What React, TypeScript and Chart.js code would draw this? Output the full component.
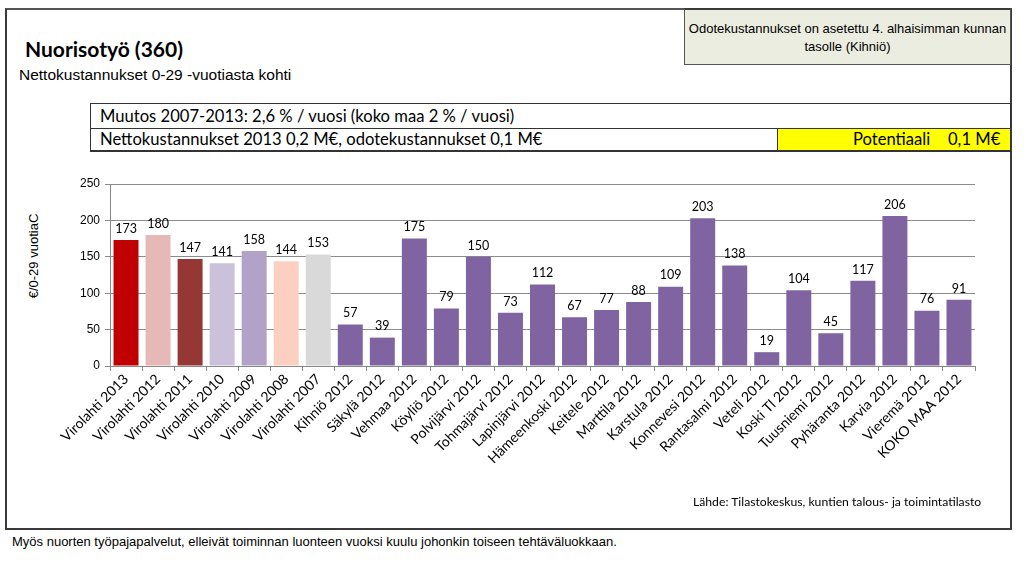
import React, { useEffect, useRef } from "react";
import { Chart, registerables } from "chart.js";

Chart.register(...registerables);

const categories = [
  "Virolahti 2013", "Virolahti 2012", "Virolahti 2011", "Virolahti 2010", "Virolahti 2009",
  "Virolahti 2008", "Virolahti 2007", "Kihniö 2012", "Säkylä 2012", "Vehmaa 2012",
  "Köyliö 2012", "Polvijärvi 2012", "Tohmajärvi 2012", "Lapinjärvi 2012", "Hämeenkoski 2012",
  "Keitele 2012", "Marttila 2012", "Karstula 2012", "Konnevesi 2012", "Rantasalmi 2012",
  "Veteli 2012", "Koski Tl 2012", "Tuusniemi 2012", "Pyhäranta 2012", "Karvia 2012",
  "Vieremä 2012", "KOKO MAA 2012",
];
const values = [173, 180, 147, 141, 158, 144, 153, 57, 39, 175, 79, 150, 73, 112, 67, 77, 88, 109, 203, 138, 19, 104, 45, 117, 206, 76, 91];
const virolahtiColors = ["#C00000", "#E6B9B8", "#953735", "#CCC1DA", "#B3A2C7", "#FCD0C0", "#D9D9D9"];
const otherColor = "#8064A2";
const yTicks = [0, 50, 100, 150, 200, 250];

const CAL = "Lato, 'Open Sans', sans-serif";
const ARIAL = "'Liberation Sans', Arial, sans-serif";

const valueLabels = {
  id: "valueLabels",
  afterDatasetsDraw(chart: any) {
    const ctx = chart.ctx;
    const meta = chart.getDatasetMeta(0);
    ctx.save();
    ctx.font = "12.5px " + CAL;
    ctx.fillStyle = "#000";
    ctx.textAlign = "center";
    ctx.textBaseline = "bottom";
    meta.data.forEach((bar: any, i: number) => {
      ctx.fillText(String(values[i]), bar.x, bar.y - 5);
    });
    ctx.restore();
  },
};

function BarChart() {
  const ref = useRef<HTMLCanvasElement>(null);
  useEffect(() => {
    const colors = values.map((_, i) => (i < virolahtiColors.length ? virolahtiColors[i] : otherColor));
    const chart = new Chart(ref.current!, {
      type: "bar",
      data: {
        labels: categories,
        datasets: [{ data: values, backgroundColor: colors, barPercentage: 0.78, categoryPercentage: 1 }],
      },
      options: {
        animation: false,
        responsive: false,
        maintainAspectRatio: false,
        layout: { padding: { top: 14, right: 15, left: 0, bottom: 0 } },
        plugins: { legend: { display: false }, tooltip: { enabled: false } },
        scales: {
          x: {
            grid: { drawOnChartArea: false, drawTicks: true, tickLength: 5, color: "#888", offset: true },
            border: { color: "#888", width: 1 },
            ticks: {
              autoSkip: false,
              minRotation: 45,
              maxRotation: 45,
              color: "#000",
              font: { family: CAL, size: 14 },
              padding: 0,
            },
            afterFit(scale: any) { scale.height = 134; },
          },
          y: {
            min: 0,
            max: 250,
            afterBuildTicks(scale: any) { scale.ticks = yTicks.map((v) => ({ value: v })); },
            grid: { color: "#8c8c8c", lineWidth: 1, tickLength: 5, drawTicks: true },
            border: { color: "#888", width: 1 },
            ticks: { color: "#000", font: { family: ARIAL, size: 12 }, padding: 5 },
            afterFit(scale: any) { scale.width = 50; },
          },
        },
      },
      plugins: [valueLabels],
    });
    return () => chart.destroy();
  }, []);
  return <canvas ref={ref} width={930} height={330} style={{ position: "absolute", left: 60, top: 170, width: 930, height: 330 }} />;
}

export default function App() {
  const abs = (s: React.CSSProperties): React.CSSProperties => ({ position: "absolute", ...s });
  return (
    <div style={{ position: "absolute", left: 0, top: 0, width: 1024, height: 588, background: "#fff", overflow: "hidden" }}>
      <div style={abs({ left: 5, top: 8, width: 1003, height: 518, border: "2px solid #3a3a3a", borderTopColor: "#555", boxSizing: "content-box" })} />
      <div style={abs({ left: 684, top: 8, width: 327, height: 57, background: "#EBEDE1", border: "1px solid #555", borderTop: "2px solid #3a3a3a", boxSizing: "border-box", fontFamily: ARIAL, fontSize: 13, color: "#000", textAlign: "center", lineHeight: "18px", paddingTop: 10 })}>
        Odotekustannukset on asetettu 4. alhaisimman kunnan<br />tasolle (Kihniö)
      </div>
      <div style={abs({ left: 25, top: 36, fontFamily: CAL, fontWeight: 700, fontSize: 21, color: "#000", whiteSpace: "nowrap" })}>Nuorisotyö (360)</div>
      <div style={abs({ left: 19, top: 66, fontFamily: ARIAL, fontSize: 15.5, color: "#000", whiteSpace: "nowrap" })}>Nettokustannukset 0-29 -vuotiasta kohti</div>
      <div style={abs({ left: 90, top: 103, width: 921, height: 25, borderTop: "1px solid #333", borderLeft: "1px solid #333", borderRight: "1px solid #333", boxSizing: "border-box", fontFamily: CAL, fontSize: 16.6, lineHeight: "24px", paddingLeft: 9, whiteSpace: "nowrap" })}>
        Muutos 2007-2013: 2,6 % / vuosi (koko maa 2 % / vuosi)
      </div>
      <div style={abs({ left: 90, top: 128, width: 921, height: 24, border: "1px solid #333", borderBottom: "2px solid #333", boxSizing: "border-box", fontFamily: CAL, fontSize: 16.6, lineHeight: "21px", paddingLeft: 9, whiteSpace: "nowrap" })}>
        Nettokustannukset 2013 0,2 M€, odotekustannukset 0,1 M€
      </div>
      <div style={abs({ left: 777, top: 129, width: 233, height: 21, background: "#FFFF00", borderLeft: "1px solid #333", boxSizing: "border-box", fontFamily: CAL, fontSize: 16.6, lineHeight: "21px", whiteSpace: "nowrap", color: "#000" })}>
        <span style={{ position: "absolute", left: 75 }}>Potentiaali</span>
        <span style={{ position: "absolute", left: 170 }}>0,1 M€</span>
      </div>
      <BarChart />
      <div style={abs({ left: 33, top: 256, width: 0, height: 0 })}>
        <div style={{ position: "absolute", left: 0, top: 0, transform: "translate(-50%, -50%) rotate(-90deg)", fontFamily: ARIAL, fontSize: 13, whiteSpace: "nowrap", color: "#000" }}>€/0-29 vuotiaC</div>
      </div>
      <div style={abs({ left: 693, top: 494, fontFamily: CAL, fontSize: 12.2, color: "#000", whiteSpace: "nowrap" })}>Lähde: Tilastokeskus, kuntien talous- ja toimintatilasto</div>
      <div style={abs({ left: 12, top: 534, fontFamily: ARIAL, fontSize: 13, color: "#000", whiteSpace: "nowrap" })}>Myös nuorten työpajapalvelut, elleivät toiminnan luonteen vuoksi kuulu johonkin toiseen tehtäväluokkaan.</div>
    </div>
  );
}
